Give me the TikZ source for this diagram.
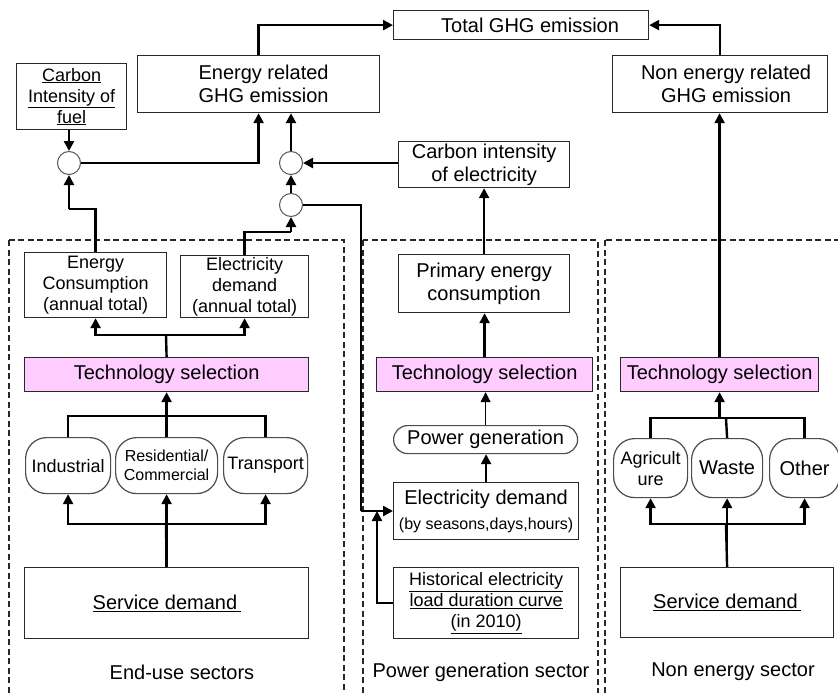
\documentclass[tikz,border=0pt]{standalone}
\usepackage{fontspec}
\setmainfont{Liberation Sans}
\usetikzlibrary{arrows.meta}
\definecolor{techpink}{RGB}{255,204,255}
\definecolor{boxline}{RGB}{40,40,40}
\newcommand{\fA}{\fontsize{20}{23}\selectfont}
\newcommand{\fB}{\fontsize{18}{21}\selectfont}
\newcommand{\fC}{\fontsize{16}{19}\selectfont}
\tikzset{
  box/.style={draw=boxline, line width=1.2pt, fill=white, inner sep=0pt, anchor=north west, align=center, font=\fA},
  techbox/.style={box, fill=techpink},
  roundbox/.style={box, draw=black!70, rounded corners=21pt},
  sector/.style={draw=boxline, line width=1.5pt, dash pattern=on 6pt off 3.5pt},
  mult/.style={circle, draw=black!65, line width=1pt, fill=white, minimum size=23pt, inner sep=0pt},
  conn/.style={line width=2.4pt, line cap=butt},
  arr/.style={conn, -{Triangle[length=10pt,width=10pt]}},
  lbl/.style={font=\fA, inner sep=0pt}
}
\begin{document}
\begin{tikzpicture}[x=1pt,y=-1pt]
\useasboundingbox (0,0) rectangle (838,693);
\clip (0,0) rectangle (838,693);
\fill[white] (0,0) rectangle (838,693);

% sector frames
\draw[sector] (9,240) rectangle (344,720);
\draw[sector] (363,240) rectangle (598,720);
\draw[sector] (605,240) rectangle (860,720);

% top level
\node[box, minimum width=255pt, minimum height=29pt] (total) at (393,10) {\hspace*{18pt}Total GHG emission};
\node[box, minimum width=242pt, minimum height=57pt] (energy) at (137,55) {\hspace*{10pt}Energy related\\\hspace*{10pt}GHG emission};
\node[box, minimum width=215pt, minimum height=57pt] (nonenergy) at (612,55) {\hspace*{12pt}Non energy related\\\hspace*{12pt}GHG emission};
\node[box, minimum width=110pt, minimum height=66pt, font=\fB] (cif) at (16,63) {\underline{Carbon}\\\underline{Intensity of}\\\underline{fuel}};
\node[box, minimum width=171pt, minimum height=46pt] (cie) at (398,141) {Carbon intensity\\of electricity};
\node[mult] (c1) at (69,163) {};
\node[mult] (c2) at (291,163) {};
\node[mult] (c3) at (291,205) {};

% end-use sectors
\node[box, minimum width=142pt, minimum height=65pt, font=\fB] (ec) at (24,252) {Energy\\Consumption\\(annual total)};
\node[box, minimum width=128pt, minimum height=62pt, font=\fB] (ed) at (180,255) {Electricity\\demand\\(annual total)};
\node[techbox, minimum width=284pt, minimum height=34pt] (tech1) at (24,357) {Technology selection};
\node[roundbox, minimum width=85pt, minimum height=56pt, font=\fB] (ind) at (25,437) {Industrial};
\node[roundbox, minimum width=102pt, minimum height=56pt, font=\fC] (res) at (115,437) {Residential/\\Commercial};
\node[roundbox, minimum width=84pt, minimum height=56pt, font=\fB] (tra) at (223,437) {Transport};
\node[box, minimum width=284pt, minimum height=71pt] (sd1) at (24,567) {\underline{Service demand\,}};
\node[lbl] (lab1) at (182,672) {End-use sectors};

% power generation sector
\node[box, minimum width=171pt, minimum height=58pt] (pec) at (398,254) {Primary energy\\consumption};
\node[techbox, minimum width=216pt, minimum height=34pt] (tech2) at (376,357) {Technology selection};
\node[box, draw=black!70, rounded corners=14pt, minimum width=184pt, minimum height=28pt] (pgen) at (393,425) {Power generation};
\node[box, minimum width=185pt, minimum height=57pt] (edp) at (393,482) {Electricity demand\\[2pt]{\fC(by seasons,days,hours)}};
\node[box, minimum width=185pt, minimum height=71pt, font=\fB] (hist) at (393,567) {\underline{Historical electricity}\\\underline{load duration curve}\\\underline{(in 2010)}};
\node[lbl] (lab2) at (481,672) {Power generation sector};

% non energy sector
\node[techbox, minimum width=198pt, minimum height=34pt] (tech3) at (620,357) {Technology selection};
\node[roundbox, minimum width=74pt, minimum height=59pt, font=\fB] (agr) at (613,438) {Agricult\\ure};
\node[roundbox, minimum width=71pt, minimum height=59pt] (was) at (691,438) {Waste};
\node[roundbox, minimum width=70pt, minimum height=59pt] (oth) at (769,438) {Other};
\node[box, minimum width=213pt, minimum height=70pt] (sd3) at (620,567) {\underline{Service demand\,}};
\node[lbl] (lab3) at (733,672) {Non energy sector};

% junction coordinates
\coordinate (j1) at (361,511);
\coordinate (j2) at (377,511);
\coordinate (j3) at (69,209);
\coordinate (j4) at (291,232);
\coordinate (j5) at (166,335);
\coordinate (j6) at (166,416);
\coordinate (j7) at (166,524);
\coordinate (j8) at (726,418);
\coordinate (j9) at (726,524);

% top connectors
\draw[arr] (energy.north) |- (total.west);
\draw[arr] (nonenergy.north) |- (total.east);
\draw[arr] (cif.south -| c1) -- (c1.north);
\draw[arr] (c1.east) -| (energy.south);
\draw[arr] (c2.north) -- (c2.north |- energy.south);
\draw[arr] (cie.west |- c2) -- (c2.east);
\draw[arr] (c3.north) -- (c2.south);
\draw[arr] (pec.north) -- (cie.south);
\draw[conn] (c3.east) -| (j1);
\draw[arr] (j1) -- (edp.west |- j1);
\draw[arr] (hist.west) -| (j2);

% end-use connectors
\draw[conn] (ec.north) |- (j3);
\draw[arr] (j3) -- (c1.south);
\draw[conn] (ed.north) |- (j4);
\draw[arr] (j4) -- (c3.south);
\draw[conn] (tech1.north) -- (j5);
\draw[arr] (j5) -| (ec.south);
\draw[arr] (j5) -| (ed.south);
\draw[conn] (ind.north) |- (j6) -| (tra.north);
\draw[arr] (res.north) -- (tech1.south);
\draw[conn] (sd1.north) -- (j7);
\draw[arr] (j7) -| (ind.south);
\draw[arr] (j7) -| (tra.south);
\draw[arr] (sd1.north) -- (res.south);

% power generation connectors
\draw[arr] (edp.north) -- (edp.north |- pgen.south);
\draw[arr, line width=1.2pt] (pgen.north) -- (pgen.north |- tech2.south);
\draw[arr] (tech2.north) -- (tech2.north |- pec.south);

% non energy connectors
\draw[conn] (agr.north) |- (j8) -| (oth.north);
\draw[conn] (was.north) -- (j8);
\draw[arr] (tech3.south |- j8) -- (tech3.south);
\draw[arr] (tech3.north) -- (tech3.north |- nonenergy.south);
\draw[conn] (sd3.north) -- (j9);
\draw[arr] (j9) -| (agr.south);
\draw[arr] (j9) -| (oth.south);
\draw[arr] (sd3.north) -- (was.south);
\end{tikzpicture}
\end{document}
